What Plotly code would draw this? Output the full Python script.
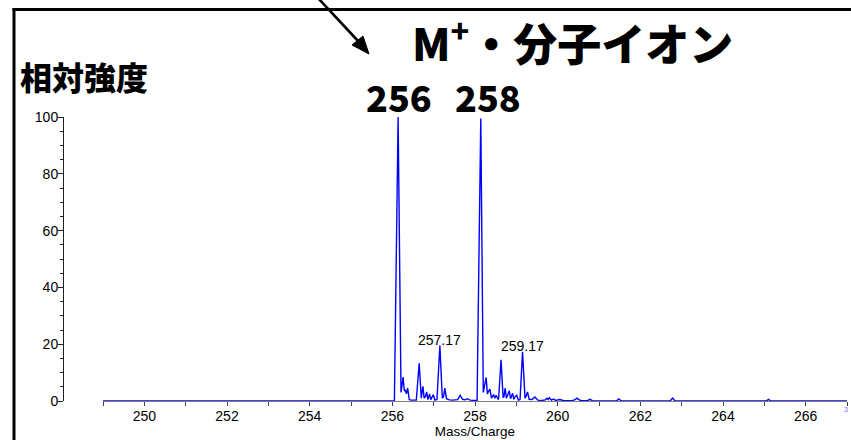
import plotly.graph_objects as go

# ---- data ----
mz = [249.00, 256.05, 256.14, 256.21, 256.26, 256.29, 256.31, 256.34, 256.37, 256.41, 256.45,
      256.58, 256.65, 256.70, 256.74, 256.77, 256.80, 256.83, 256.86, 256.90, 256.93, 256.96,
      256.99, 257.03, 257.08, 257.15, 257.21, 257.24, 257.27, 257.31, 257.38, 257.46, 257.52,
      257.58, 257.64, 257.70, 257.76, 257.82, 257.88, 257.94, 258.05, 258.14, 258.20, 258.27,
      258.30, 258.33, 258.36, 258.40, 258.45, 258.48, 258.51, 258.57, 258.63, 258.68, 258.70,
      258.73, 258.76, 258.80, 258.83, 258.86, 258.88, 258.91, 258.94, 258.97, 259.01, 259.05,
      259.09, 259.15, 259.21, 259.24, 259.27, 259.31, 259.38, 259.45, 259.52, 259.62, 259.70,
      259.74, 259.77, 259.80, 259.85, 259.90, 259.95, 260.05, 260.15, 260.35, 260.42, 260.47,
      260.52, 260.58, 260.72, 260.78, 260.84, 260.95, 261.42, 261.48, 261.54, 262.72, 262.78,
      262.84, 265.04, 265.10, 265.16, 267.00]
intensity = [0, 0, 100, 3, 8.4, 3.5, 4, 2.5, 4.5, 0.5, 0.3,
             0.3, 13.3, 1.0, 5.2, 1.0, 1.5, 3.2, 0.5, 2.5, 0.5, 1.5,
             2.2, 0.3, 0.5, 19.5, 1.0, 1.5, 4.5, 0.8, 0.4, 0.3, 0.5,
             0.5, 2.0, 0.6, 0.4, 0.8, 0.3, 0.2, 0.2, 99.5, 3, 8.3,
             2.5, 3.5, 4.2, 1.0, 2.3, 1.0, 2.0, 0.5, 14.5, 1.2, 1.5,
             4.5, 1.0, 2.5, 3.6, 0.8, 1.5, 2.7, 0.6, 1.5, 2.0, 0.3,
             0.5, 17.3, 1.0, 1.8, 3.2, 0.6, 0.5, 1.4, 0.3, 0.2, 0.4,
             1.0, 0.5, 1.2, 0.3, 0.7, 0.2, 0.5, 0.1, 0.1, 0.5, 1.0,
             0.4, 0.1, 0.1, 0.6, 0.1, 0.1, 0, 0.7, 0, 0, 1.0,
             0, 0, 0.6, 0, 0]

peak_label_mz = [257.15, 259.15]
peak_label_int = [19.5, 17.3]
peak_label_text = ["257.17", "259.17"]

y_ticks = [0, 20, 40, 60, 80, 100]
x_range = [249, 267]

W, H = 851, 440
ML, MR, MT, MB = 63, 4, 117, 39
PW = W - ML - MR
PH = H - MT - MB


def px(x):
    return (x - ML) / PW


def py(y):
    return (H - MB - y) / PH


fig = go.Figure()
fig.add_trace(go.Scatter(x=mz, y=intensity, mode="lines",
                         line=dict(color="#0000ff", width=1.4),
                         hoverinfo="skip", showlegend=False))

fig.update_layout(
    width=W, height=H,
    margin=dict(l=ML, r=MR, t=MT, b=MB, pad=0),
    paper_bgcolor="white", plot_bgcolor="white",
    font=dict(family="Liberation Sans, Arial, sans-serif", size=14, color="black"),
    xaxis=dict(range=x_range, domain=[px(103), 1], showgrid=False, zeroline=False,
               showline=True, linecolor="#808080", linewidth=1,
               ticks="outside", ticklen=4, tickcolor="#404040", tickwidth=1,
               tick0=250, dtick=2, ticklabelstandoff=-2,
               minor=dict(dtick=1, ticks="outside", ticklen=4, tickcolor="#404040", showgrid=False),
               title=dict(text="Mass/Charge", font=dict(size=13.5), standoff=0),
               tickfont=dict(size=14)),
    yaxis=dict(range=[0, 100], anchor="free", position=0, showgrid=False, zeroline=False,
               showline=True, linecolor="#202020", linewidth=1,
               ticks="outside", ticklen=5, tickcolor="#202020",
               tickvals=y_ticks, ticklabelstandoff=-3,
               minor=dict(dtick=5, ticks="outside", ticklen=3, tickcolor="#202020", showgrid=False),
               tickfont=dict(size=14)),
)

ann = []
for m, v, t in zip(peak_label_mz, peak_label_int, peak_label_text):
    ann.append(dict(x=m, y=v, xref="x", yref="y", text=t, showarrow=False,
                    yanchor="bottom", yshift=-4, font=dict(size=14, color="black")))

big = dict(family="Noto Sans CJK JP", color="black", weight=900)
ann.append(dict(x=px(84), y=py(76), xref="paper", yref="paper", text="相対強度",
                showarrow=False, xanchor="center", yanchor="middle",
                font=dict(size=32, **big)))
ann.append(dict(x=px(572), y=py(41), xref="paper", yref="paper",
                text="M<sup>+</sup>・分子イオン",
                showarrow=False, xanchor="center", yanchor="middle",
                font=dict(size=44, **big)))
ann.append(dict(x=px(399), y=py(96), xref="paper", yref="paper", text="256",
                showarrow=False, xanchor="center", yanchor="middle",
                font=dict(size=36, **big)))
ann.append(dict(x=px(488), y=py(96), xref="paper", yref="paper", text="258",
                showarrow=False, xanchor="center", yanchor="middle",
                font=dict(size=36, **big)))
ann.append(dict(x=px(850), y=py(409), xref="paper", yref="paper", text="3",
                showarrow=False, xanchor="right", yanchor="middle",
                font=dict(size=7, color="#6a6aff")))
fig.update_layout(annotations=ann)

# decorative frame and arrow (page pixels converted to paper units)
fig.update_layout(shapes=[
    dict(type="line", xref="paper", yref="paper", x0=px(14), x1=px(14), y0=py(8), y1=py(445),
         line=dict(color="black", width=3)),
    dict(type="line", xref="paper", yref="paper", x0=px(12.5), x1=px(860), y0=py(9.5), y1=py(9.5),
         line=dict(color="black", width=3)),
    dict(type="line", xref="paper", yref="paper", x0=px(318), y0=py(-2), x1=px(359), y1=py(42),
         line=dict(color="black", width=2.6)),
    dict(type="path", xref="paper", yref="paper",
         path=f"M {px(369)} {py(54)} L {px(352)} {py(45)} L {px(363)} {py(36)} Z",
         fillcolor="black", line=dict(color="black", width=1)),
])

fig.write_html("out.html", config={"displayModeBar": False},
               post_script="document.body.style.margin='0';")
